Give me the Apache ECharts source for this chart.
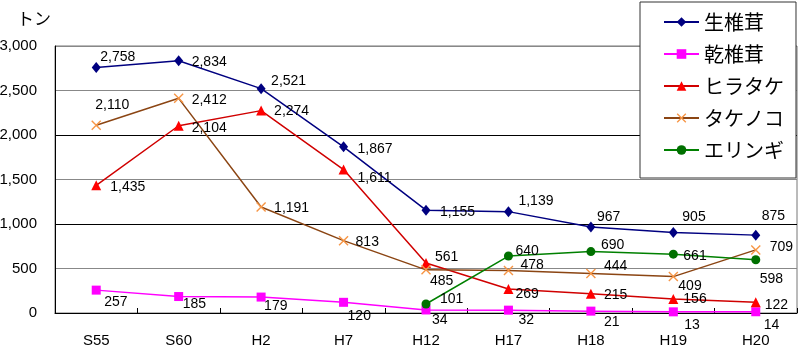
<!DOCTYPE html>
<html><head><meta charset="utf-8">
<script src="https://cdn.jsdelivr.net/npm/echarts@6/dist/echarts.min.js"></script>
<style>html,body{margin:0;padding:0;background:#fff}#c{width:800px;height:355px}</style>
</head><body><div id="c"></div>
<script>
const categories = ['S55','S60','H2','H7','H12','H17','H18','H19','H20'];
const namaShiitake = [2758,2834,2521,1867,1155,1139,967,905,875];
const hoshiShiitake = [257,185,179,120,34,32,21,13,14];
const hiratake = [1435,2104,2274,1611,561,269,215,156,122];
const takenoko = [2110,2412,1191,813,485,478,444,409,709];
const eringi = [null,null,null,null,101,640,690,661,598];
const yTicks = [0,500,1000,1500,2000,2500,3000];

// label offsets (style only): [dx from point to label left, dy of label centre]
const offNama = [[4,-10],[13,1],[10,-7],[14,2],[14,2],[10,-10],[6,-10],[9,-15],[6,-19]];
const offHoshi = [[8,12],[4,8],[3,9],[4,14],[6,10],[10,10],[13,11],[11,13],[8,13]];
const offHira = [[14,2],[13,2],[13,1],[14,9],[9,-6],[7,5],[13,1],[10,0],[9,3]];
const offTake = [[-1,-20],[13,2],[13,1],[12,1],[4,11],[12,-5],[13,-7],[5,10],[14,-3]];
const offEri = [[0,0],[0,0],[0,0],[0,0],[14,-5],[7,-5],[10,-6],[10,2],[4,19]];

const numFont = '"Liberation Sans Narrow","Liberation Sans",sans-serif';
const cjkFont = '"Noto Sans CJK JP",sans-serif';
const fmt = v => Number(v).toLocaleString('en-US');

function mk(vals, offs){
  return vals.map((v,i)=> v==null ? '-' : ({value:v, label:{offset:offs[i]}}));
}
const xPath = 'path://M1,0 L10,9 L9,10 L0,1 Z M9,0 L10,1 L1,10 L0,9 Z';

function series(name, vals, offs, lineColor, markColor, symbol, size){
  return {
    name, type:'line', data: mk(vals, offs), connectNulls:false,
    symbol, symbolSize:size, showAllSymbol:true,
    lineStyle:{color:lineColor, width:1.5},
    itemStyle:{color:markColor},
    label:{show:true, position:'inside', align:'left', verticalAlign:'middle',
      color:'#000', fontSize:14, fontFamily:numFont,
      formatter:p=>fmt(p.value)},
    emphasis:{disabled:true}, animation:false
  };
}

const chart = echarts.init(document.getElementById('c'));
chart.setOption({
  animation:false,
  title:{text:'トン', left:12, top:5, textStyle:{fontSize:17, fontWeight:'normal', color:'#000', fontFamily:cjkFont}},
  grid:{left:55, right:3, top:46, bottom:42, outerBoundsMode:'none', containLabel:false,
    show:true, borderColor:'#777', borderWidth:1, backgroundColor:'transparent'},
  legend:{
    orient:'vertical', left:640, top:2,
    padding:[10,12,18,23], itemGap:12, itemWidth:35, itemHeight:12,
    backgroundColor:'#fff', borderColor:'#333', borderWidth:1,
    textStyle:{fontSize:20, lineHeight:20, color:'#000', fontFamily:cjkFont},
    data:['生椎茸','乾椎茸','ヒラタケ','タケノコ','エリンギ']
  },
  xAxis:{type:'category', data:categories, boundaryGap:true,
    axisLine:{lineStyle:{color:'#000', width:1}},
    axisTick:{show:true, inside:true, length:5, lineStyle:{color:'#000'}},
    axisLabel:{color:'#000', fontSize:15, margin:20, fontFamily:numFont}
  },
  yAxis:{type:'value', min:yTicks[0], max:yTicks[yTicks.length-1], interval:500,
    axisLine:{show:true, lineStyle:{color:'#000'}},
    axisTick:{show:false},
    axisLabel:{color:'#000', fontSize:15, margin:18, fontFamily:numFont, formatter:v=>fmt(v)},
    splitLine:{show:true, lineStyle:{color:['#000','#888','#000','#888','#000','#888','#888'], width:1}}
  },
  series:[
    series('生椎茸', namaShiitake, offNama, '#000080', '#000080', 'diamond', [9,11]),
    series('乾椎茸', hoshiShiitake, offHoshi, '#FF00FF', '#FF00FF', 'rect', 9),
    series('ヒラタケ', hiratake, offHira, '#D00000', '#FF0000', 'triangle', 10),
    series('タケノコ', takenoko, offTake, '#8B4513', '#F79646', xPath, 10),
    series('エリンギ', eringi, offEri, '#008000', '#007000', 'circle', 9)
  ]
});
</script></body></html>
